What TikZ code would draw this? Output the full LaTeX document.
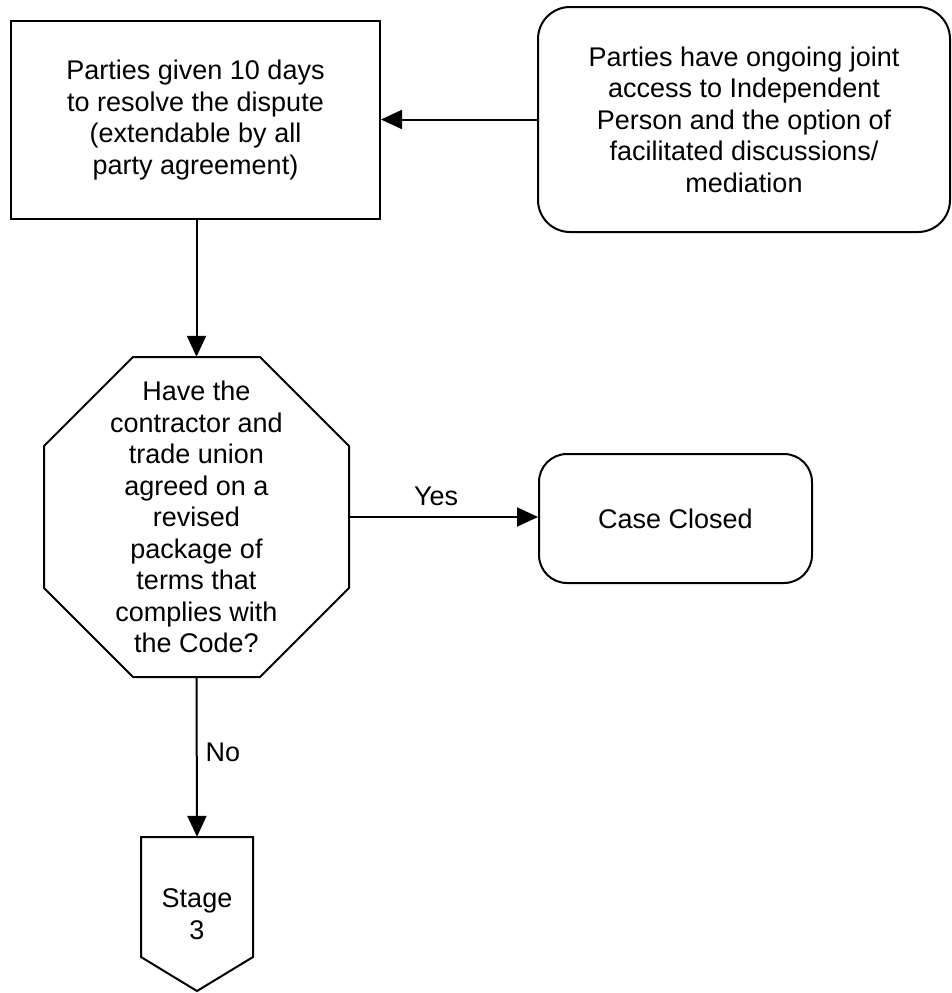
\documentclass[tikz,border=0pt]{standalone}
\usepackage{fontspec}
\setmainfont{Liberation Sans}
\usetikzlibrary{arrows.meta}
\begin{document}
\begin{tikzpicture}[x=1pt,y=-1pt,
  every node/.style={font=\fontsize{27}{31.5}\selectfont, align=center, inner sep=0pt},
  shapeline/.style={draw=black, line width=2pt},
  boxnode/.style={shapeline, rectangle},
  roundnode/.style={shapeline, rectangle, rounded corners=32pt},
  arr/.style={line width=2pt, -{Triangle[length=21pt,width=19pt]}},
  lbl/.style={inner sep=0pt}]
\useasboundingbox (0,0) rectangle (951,993);
\fill[white] (0,0) rectangle (951,993);

% boxes
\node[boxnode, minimum width=369pt, minimum height=198pt] (give) at (195.5,120)
  {Parties given 10 days\\to resolve the dispute\\(extendable by all\\party agreement)};
\node[roundnode, minimum width=412pt, minimum height=225pt] (access) at (744,119.5)
  {Parties have ongoing joint\\access to Independent\\Person and the option of\\facilitated discussions/\\mediation};

% octagon decision
\draw[shapeline] (133,357) -- (260,357) -- (349,446) -- (349,588) -- (260,677)
  -- (133,677) -- (44,588) -- (44,446) -- cycle;
\node[minimum width=305pt, minimum height=320pt] (q) at (196.5,517)
  {Have the\\contractor and\\trade union\\agreed on a\\revised\\package of\\terms that\\complies with\\the Code?};

\node[roundnode, rounded corners=28pt, minimum width=273pt, minimum height=129pt] (closed) at (675.5,518.5)
  {Case Closed};

% off-page connector
\draw[shapeline] (141,837) -- (253,837) -- (253,957) -- (197,991) -- (141,957) -- cycle;
\node[minimum width=112pt, minimum height=154pt] (stage) at (197,914) {Stage\\3};

% connectors
\draw[arr] (access.west) -- (access.west -| give.east);
\draw[arr] (give.south) -- (give.south -| q.north) -- (q.north);
\draw[arr] (q.east) -- node[lbl, pos=0.46, above=10pt] (yes) {Yes} (q.east -| closed.west);
\draw[arr] (q.south) -- node[lbl, pos=0.47, right=8pt] (no) {No} (stage.north);
\end{tikzpicture}
\end{document}
